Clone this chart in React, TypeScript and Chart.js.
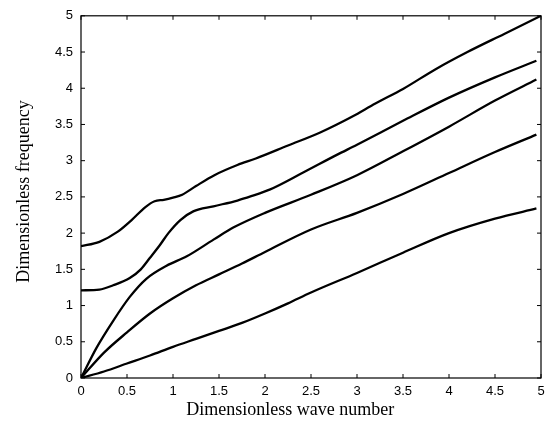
import React, { useEffect, useRef } from 'react';
import { Chart, registerables } from 'chart.js';

Chart.register(...registerables);

const xTickValues = [0, 0.5, 1, 1.5, 2, 2.5, 3, 3.5, 4, 4.5, 5];
const xTickLabels = ['0', '0.5', '1', '1.5', '2', '2.5', '3', '3.5', '4', '4.5', '5'];
const yTickValues = [0, 0.5, 1, 1.5, 2, 2.5, 3, 3.5, 4, 4.5, 5];
const yTickLabels = ['0', '0.5', '1', '1.5', '2', '2.5', '3', '3.5', '4', '4.5', '5'];

const xTitle = 'Dimensionless wave number';
const yTitle = 'Dimensionless frequency';

// Branch 1 (top)
const b1X = [0, 0.2, 0.4, 0.55, 0.7, 0.8, 0.9, 1.0, 1.1, 1.25, 1.45, 1.7, 1.9, 2.25, 2.6, 2.95, 3.2, 3.5, 3.85, 4.2, 4.6, 5.0];
const b1Y = [1.82, 1.88, 2.02, 2.18, 2.36, 2.44, 2.46, 2.49, 2.53, 2.65, 2.8, 2.94, 3.03, 3.21, 3.39, 3.61, 3.79, 3.99, 4.26, 4.5, 4.75, 5.0];
// Branch 2
const b2X = [0, 0.2, 0.35, 0.53, 0.65, 0.75, 0.86, 0.95, 1.08, 1.22, 1.44, 1.7, 1.85, 2.05, 2.42, 2.78, 3.0, 3.5, 4.0, 4.5, 4.95];
const b2Y = [1.21, 1.22, 1.28, 1.38, 1.5, 1.66, 1.84, 2.0, 2.18, 2.3, 2.37, 2.45, 2.51, 2.6, 2.84, 3.08, 3.22, 3.55, 3.87, 4.15, 4.38];
// Branch 3
const b3X = [0, 0.17, 0.35, 0.53, 0.71, 0.93, 1.15, 1.44, 1.66, 2.0, 2.5, 3.0, 3.5, 4.0, 4.5, 4.95];
const b3Y = [0, 0.42, 0.79, 1.12, 1.37, 1.55, 1.68, 1.91, 2.08, 2.28, 2.53, 2.8, 3.13, 3.47, 3.83, 4.12];
// Branch 4
const b4X = [0, 0.25, 0.5, 0.75, 1.0, 1.25, 1.5, 1.75, 2.0, 2.5, 3.0, 3.5, 4.0, 4.5, 4.95];
const b4Y = [0, 0.35, 0.63, 0.89, 1.1, 1.28, 1.43, 1.58, 1.74, 2.05, 2.28, 2.54, 2.83, 3.12, 3.36];
// Branch 5 (bottom)
const b5X = [0, 0.25, 0.5, 0.75, 1.0, 1.25, 1.5, 1.75, 2.0, 2.25, 2.5, 3.0, 3.5, 4.0, 4.5, 4.95];
const b5Y = [0, 0.09, 0.2, 0.31, 0.43, 0.54, 0.65, 0.76, 0.89, 1.03, 1.18, 1.45, 1.73, 2.0, 2.2, 2.34];

const branches = [
  [b1X, b1Y],
  [b2X, b2Y],
  [b3X, b3Y],
  [b4X, b4Y],
  [b5X, b5Y],
];

const framePlugin = {
  id: 'frame',
  afterDraw(chart: any) {
    const { ctx, chartArea, scales } = chart;
    const { left, right, top, bottom } = chartArea;
    ctx.save();
    ctx.strokeStyle = '#000';
    ctx.lineWidth = 1.2;
    ctx.strokeRect(left, top, right - left, bottom - top);
    const tl = 4;
    ctx.lineWidth = 1;
    ctx.beginPath();
    xTickValues.forEach((v) => {
      const px = scales.x.getPixelForValue(v);
      ctx.moveTo(px, bottom);
      ctx.lineTo(px, bottom - tl);
      ctx.moveTo(px, top);
      ctx.lineTo(px, top + tl);
    });
    yTickValues.forEach((v) => {
      const py = scales.y.getPixelForValue(v);
      ctx.moveTo(left, py);
      ctx.lineTo(left + tl, py);
      ctx.moveTo(right, py);
      ctx.lineTo(right - tl, py);
    });
    ctx.stroke();

    ctx.fillStyle = '#000';
    ctx.font = '18px "Liberation Serif"';
    ctx.textAlign = 'center';
    ctx.textBaseline = 'middle';
    ctx.fillText(xTitle, left + (right - left) * 0.455, 410);
    ctx.translate(24, top + (bottom - top) * 0.485);
    ctx.rotate(-Math.PI / 2);
    ctx.fillText(yTitle, 0, 0);
    ctx.restore();
  },
};

export default function App() {
  const ref = useRef<HTMLCanvasElement>(null);
  useEffect(() => {
    document.body.style.margin = '0';
    const canvas = ref.current!;
    const chart = new Chart(canvas, {
      type: 'scatter',
      data: {
        datasets: branches.map(([xs, ys]) => ({
          data: xs.map((x, i) => ({ x, y: ys[i] })),
          showLine: true,
          borderColor: '#000',
          borderWidth: 2.3,
          pointRadius: 0,
          cubicInterpolationMode: 'monotone' as const,
          fill: false,
        })),
      },
      options: {
        responsive: false,
        animation: false,
        layout: { padding: { top: 12, right: 12, left: 0, bottom: 0 } },
        plugins: { legend: { display: false }, tooltip: { enabled: false } },
        scales: {
          x: {
            type: 'linear',
            min: 0,
            max: 5,
            afterBuildTicks: (scale: any) => {
              scale.ticks = xTickValues.map((value) => ({ value }));
            },
            afterFit: (scale: any) => {
              scale.height = 50;
            },
            ticks: {
              callback: (_v: any, i: number) => xTickLabels[i],
              font: { family: '"Liberation Sans"', size: 13 },
              color: '#000',
              padding: 6,
              maxRotation: 0,
              autoSkip: false,
            },
            grid: { display: false, drawTicks: false },
            border: { display: false },
          },
          y: {
            type: 'linear',
            min: 0,
            max: 5,
            afterBuildTicks: (scale: any) => {
              scale.ticks = yTickValues.map((value) => ({ value }));
            },
            afterFit: (scale: any) => {
              scale.width = 81;
            },
            ticks: {
              callback: (_v: any, i: number) => yTickLabels[i],
              font: { family: '"Liberation Sans"', size: 13 },
              color: '#000',
              padding: 8,
              autoSkip: false,
            },
            grid: { display: false, drawTicks: false },
            border: { display: false },
          },
        },
      },
      plugins: [framePlugin],
    });
    return () => chart.destroy();
  }, []);
  return (
    <div style={{ position: 'absolute', left: 0, top: 0, width: 553, height: 428, background: '#fff' }}>
      <canvas ref={ref} width={553} height={428} style={{ width: 553, height: 428 }} />
    </div>
  );
}
